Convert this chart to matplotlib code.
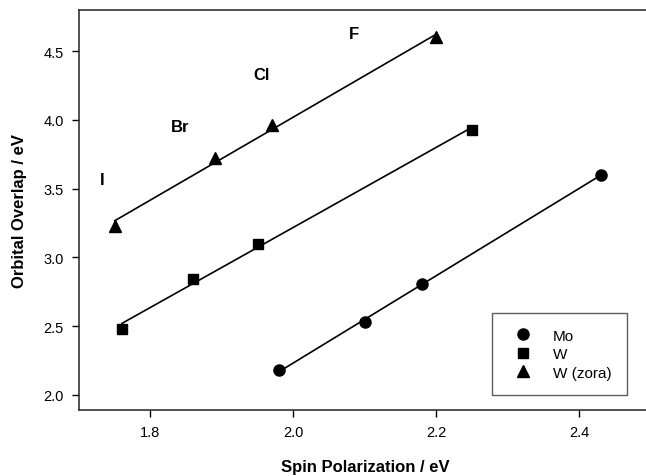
import numpy as np
import matplotlib.pyplot as plt

plt.rcParams['font.family'] = ['Liberation Sans', 'DejaVu Sans']

# spin polarization (x) and orbital overlap (y), eV
mo_x = [1.98, 2.10, 2.18, 2.43]
mo_y = [2.18, 2.53, 2.81, 3.60]
w_x = [1.76, 1.86, 1.95, 2.25]
w_y = [2.48, 2.84, 3.10, 3.93]
wz_x = [1.75, 1.89, 1.97, 2.20]
wz_y = [3.23, 3.72, 3.96, 4.60]

halogens = ['I', 'Br', 'Cl', 'F']
hal_x = [1.733, 1.841, 1.956, 2.085]
hal_y = [3.565, 3.95, 4.33, 4.63]

fig = plt.figure(figsize=(6.46, 4.77), dpi=100)
ax = fig.add_axes([0.1223, 0.1384, 0.885, 0.8386])

series = [(mo_x, mo_y, 'o', 'Mo', 8),
          (w_x, w_y, 's', 'W', 7),
          (wz_x, wz_y, '^', 'W (zora)', 8)]
for xs, ys, m, lab, ms in series:
    xs = np.array(xs)
    ys = np.array(ys)
    k, b = np.polyfit(xs, ys, 1)
    xl = np.array([xs.min(), xs.max()])
    ax.plot(xl, k * xl + b, color='black', lw=1.2)
    ax.plot(xs, ys, linestyle='none', marker=m, color='black', ms=ms, label=lab)

for t, x, y in zip(halogens, hal_x, hal_y):
    ax.text(x, y, t, fontsize=12, fontweight='bold', ha='center', va='center')

ax.set_xlim(1.7, 2.5)
ax.set_ylim(1.89, 4.8)
ax.set_xticks([1.8, 2.0, 2.2, 2.4])
ax.set_xticklabels(['1.8', '2.0', '2.2', '2.4'])
ax.set_yticks([2.0, 2.5, 3.0, 3.5, 4.0, 4.5])
ax.set_yticklabels(['2.0', '2.5', '3.0', '3.5', '4.0', '4.5'])
ax.tick_params(direction='out', length=5, width=1, labelsize=10.5, pad=6)
ax.spines['right'].set_visible(False)
for s in ['left', 'bottom', 'top']:
    ax.spines[s].set_color('#333333')
    ax.spines[s].set_linewidth(1.2)

ax.set_xlabel('Spin Polarization / eV', fontsize=12, fontweight='bold', labelpad=14)
ax.set_ylabel('Orbital Overlap / eV', fontsize=12, fontweight='bold', labelpad=12)

leg = ax.legend(loc='lower right', bbox_to_anchor=(0.9585, 0.0375), fontsize=11,
                frameon=True, fancybox=False, edgecolor='#333333',
                borderpad=1.0, handletextpad=1.0, labelspacing=0.3,
                borderaxespad=0, handlelength=2.0)
leg.get_frame().set_linewidth(1.0)

fig.savefig('out.png', dpi=100)
